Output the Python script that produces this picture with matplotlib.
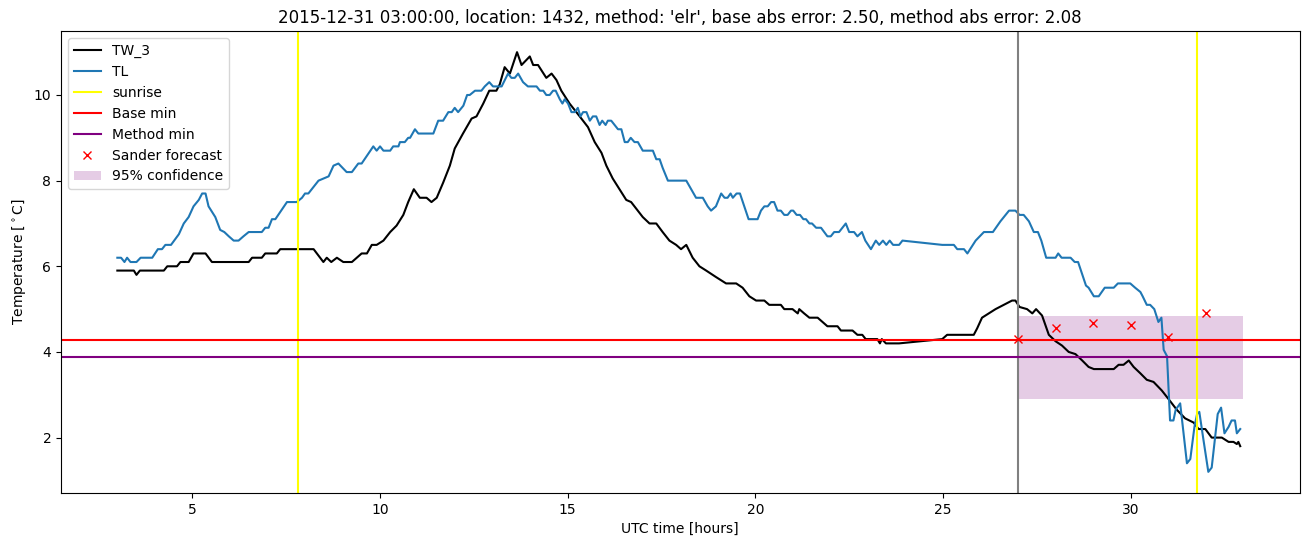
import matplotlib
matplotlib.use('Agg')
import matplotlib.pyplot as plt

# TW_3 (black) readings: hours, temperature
tw3_t = [3.0, 3.44, 3.51, 3.6, 4.24, 4.33, 4.59, 4.68, 4.9, 5.03, 5.35, 5.52, 6.5, 6.59, 6.85,
         6.94, 7.25, 7.34, 8.23, 8.36, 8.49, 8.58, 8.7, 8.85, 9.02, 9.25, 9.38, 9.51, 9.65, 9.78,
         9.91, 10.09, 10.27, 10.44, 10.62, 10.75, 10.9, 11.06, 11.24, 11.37, 11.51, 11.68, 11.86,
         11.99, 12.21, 12.44, 12.57, 12.75, 12.91, 13.1, 13.19, 13.32, 13.46, 13.65, 13.77, 13.99,
         14.08, 14.21, 14.43, 14.57, 14.7, 14.83, 15.05, 15.32, 15.54, 15.72, 15.9, 16.03, 16.2,
         16.38, 16.56, 16.69, 17.0, 17.18, 17.36, 17.53, 17.71, 17.89, 18.02, 18.16, 18.33, 18.51,
         18.69, 18.95, 19.22, 19.49, 19.66, 19.84, 20.02, 20.24, 20.37, 20.68, 20.77, 20.99, 21.13,
         21.17, 21.3, 21.44, 21.66, 21.79, 21.92, 22.19, 22.28, 22.59, 22.72, 22.85, 22.94, 23.25,
         23.32, 23.37, 23.48, 23.83, 24.98, 25.11, 25.82, 25.91, 26.04, 26.22, 26.4, 26.62, 26.84,
         26.93, 27.04, 27.24, 27.38, 27.48, 27.64, 27.82, 28.0, 28.17, 28.35, 28.53, 28.71, 28.88,
         29.02, 29.55, 29.68, 29.81, 29.95, 30.08, 30.26, 30.43, 30.61, 30.83, 31.01, 31.23, 31.45,
         31.68, 31.81, 31.99, 32.16, 32.43, 32.61, 32.74, 32.83, 32.87, 32.92]
tw3_v = [5.9, 5.9, 5.8, 5.9, 5.9, 6.0, 6.0, 6.1, 6.1, 6.3, 6.3, 6.1, 6.1, 6.2, 6.2,
         6.3, 6.3, 6.4, 6.4, 6.25, 6.1, 6.2, 6.1, 6.2, 6.1, 6.1, 6.2, 6.3, 6.3, 6.5,
         6.5, 6.6, 6.8, 6.95, 7.2, 7.5, 7.8, 7.6, 7.6, 7.5, 7.6, 7.95, 8.35,
         8.75, 9.1, 9.45, 9.5, 9.8, 10.1, 10.1, 10.25, 10.65, 10.5, 11.0, 10.7, 10.9,
         10.7, 10.7, 10.4, 10.5, 10.35, 10.1, 9.8, 9.5, 9.25, 8.9, 8.65, 8.35, 8.05,
         7.8, 7.55, 7.5, 7.15, 7.0, 7.0, 6.8, 6.6, 6.5, 6.4, 6.5, 6.2, 6.0,
         5.9, 5.75, 5.6, 5.6, 5.5, 5.3, 5.2, 5.2, 5.1, 5.1, 5.0, 5.0, 4.9,
         5.0, 4.9, 4.8, 4.8, 4.7, 4.6, 4.6, 4.5, 4.5, 4.4, 4.4, 4.3, 4.3,
         4.2, 4.3, 4.2, 4.2, 4.3, 4.4, 4.4, 4.55, 4.8, 4.9, 5.0, 5.1, 5.2,
         5.2, 5.05, 5.0, 4.9, 5.0, 4.85, 4.4, 4.25, 4.15, 4.0, 3.95, 3.8, 3.65,
         3.6, 3.6, 3.7, 3.7, 3.8, 3.65, 3.5, 3.35, 3.3, 3.1, 2.9, 2.65, 2.45,
         2.35, 2.2, 2.2, 2.0, 2.0, 1.9, 1.9, 1.85, 1.9, 1.8]

# TL (blue) readings
tl_t = [3.0, 3.1, 3.19, 3.26, 3.35, 3.51, 3.62, 3.93, 4.08, 4.19, 4.28, 4.43, 4.64, 4.77, 4.9,
        5.03, 5.17, 5.26, 5.35, 5.43, 5.61, 5.74, 5.85, 5.97, 6.1, 6.23, 6.36, 6.5, 6.85, 6.94,
        7.03, 7.12, 7.21, 7.52, 7.78, 7.92, 8.0, 8.09, 8.36, 8.63, 8.76, 8.89, 9.11, 9.25, 9.42,
        9.51, 9.82, 9.91, 10.0, 10.09, 10.27, 10.35, 10.49, 10.53, 10.66, 10.75, 10.8, 10.93,
        11.02, 11.42, 11.55, 11.68, 11.82, 11.91, 11.99, 12.08, 12.22, 12.32, 12.39, 12.53, 12.7,
        12.79, 12.91, 13.01, 13.24, 13.41, 13.5, 13.59, 13.68, 13.81, 13.94, 14.17, 14.26, 14.35,
        14.43, 14.52, 14.61, 14.68, 14.79, 14.86, 14.92, 15.01, 15.1, 15.19, 15.27, 15.34, 15.41,
        15.5, 15.59, 15.67, 15.76, 15.85, 15.92, 16.01, 16.07, 16.16, 16.34, 16.43, 16.52, 16.6,
        16.68, 16.78, 16.87, 17.0, 17.27, 17.36, 17.45, 17.53, 17.67, 18.16, 18.29, 18.42, 18.6,
        18.73, 18.82, 18.95, 19.09, 19.18, 19.26, 19.34, 19.4, 19.5, 19.59, 19.82, 20.06, 20.15,
        20.24, 20.33, 20.42, 20.5, 20.59, 20.68, 20.77, 20.86, 20.95, 21.01, 21.1, 21.19, 21.28,
        21.35, 21.44, 21.51, 21.62, 21.75, 21.92, 22.01, 22.1, 22.23, 22.41, 22.5, 22.63, 22.72,
        22.84, 22.93, 23.08, 23.21, 23.3, 23.4, 23.49, 23.58, 23.67, 23.83, 23.92, 24.98, 25.29,
        25.38, 25.56, 25.65, 25.87, 26.09, 26.33, 26.53, 26.76, 26.93, 27.04, 27.15, 27.29, 27.42,
        27.53, 27.62, 27.75, 28.0, 28.07, 28.16, 28.4, 28.51, 28.6, 28.81, 28.88, 29.02, 29.15,
        29.31, 29.55, 29.66, 29.99, 30.12, 30.26, 30.32, 30.43, 30.52, 30.63, 30.74, 30.82, 30.88,
        30.97, 31.05, 31.14, 31.2, 31.32, 31.5, 31.59, 31.7, 31.77, 31.83, 31.94, 32.07, 32.16,
        32.32, 32.41, 32.5, 32.61, 32.69, 32.78, 32.83, 32.92]
tl_v = [6.2, 6.2, 6.1, 6.2, 6.1, 6.1, 6.2, 6.2, 6.4, 6.4, 6.5, 6.5, 6.75, 7.0, 7.15,
        7.4, 7.55, 7.7, 7.7, 7.4, 7.15, 6.85, 6.8, 6.7, 6.6, 6.6, 6.7, 6.8, 6.8, 6.9,
        6.9, 7.1, 7.1, 7.5, 7.5, 7.6, 7.7, 7.7, 8.0, 8.1, 8.35, 8.4, 8.2, 8.2, 8.4,
        8.4, 8.8, 8.7, 8.8, 8.7, 8.7, 8.8, 8.8, 8.9, 8.9, 9.0, 9.0, 9.2,
        9.1, 9.1, 9.4, 9.4, 9.6, 9.6, 9.7, 9.6, 9.75, 10.0, 10.0, 10.1, 10.1,
        10.2, 10.3, 10.2, 10.2, 10.5, 10.4, 10.4, 10.5, 10.3, 10.2, 10.2, 10.1, 10.1,
        10.0, 10.0, 10.1, 10.1, 9.9, 9.8, 9.9, 9.8, 9.6, 9.6, 9.7, 9.5, 9.6,
        9.6, 9.4, 9.5, 9.5, 9.3, 9.4, 9.3, 9.4, 9.4, 9.2, 9.2, 8.9, 8.9,
        9.0, 8.9, 8.9, 8.7, 8.7, 8.5, 8.5, 8.3, 8.0, 8.0, 7.8, 7.6, 7.6,
        7.4, 7.3, 7.4, 7.7, 7.6, 7.6, 7.7, 7.6, 7.7, 7.7, 7.1, 7.1, 7.3,
        7.4, 7.4, 7.5, 7.5, 7.3, 7.3, 7.2, 7.2, 7.3, 7.3, 7.2, 7.2, 7.1,
        7.1, 7.0, 7.0, 6.9, 6.9, 6.7, 6.7, 6.8, 6.8, 7.0, 6.8, 6.8, 6.7,
        6.8, 6.6, 6.4, 6.6, 6.5, 6.6, 6.5, 6.6, 6.5, 6.5, 6.6, 6.5, 6.5,
        6.4, 6.4, 6.3, 6.6, 6.8, 6.8, 7.05, 7.3, 7.3, 7.2, 7.2, 7.05, 6.8,
        6.8, 6.6, 6.2, 6.2, 6.3, 6.2, 6.2, 6.1, 6.1, 5.55, 5.5, 5.3, 5.3,
        5.5, 5.5, 5.6, 5.6, 5.5, 5.4, 5.3, 5.1, 5.1, 5.0, 4.7, 4.8, 4.05,
        3.9, 2.4, 2.4, 2.65, 2.8, 1.4, 1.5, 2.25, 2.55, 2.6, 1.95, 1.2, 1.3,
        2.55, 2.7, 2.1, 2.25, 2.4, 2.4, 2.1, 2.2]

sunrise = [7.82, 31.78]
forecast_start = 27.0
base_min = 4.29
method_min = 3.89

sander_t = [27, 28, 29, 30, 31, 32]
sander_v = [4.3, 4.57, 4.67, 4.62, 4.36, 4.92]

conf_t = [27.0, 33.0]
conf_lo = 2.9
conf_hi = 4.85

fig = plt.figure(figsize=(13.1, 5.47), dpi=100)
ax = fig.add_subplot(111)
fig.subplots_adjust(left=0.0466, right=0.992, top=0.943, bottom=0.099)

ax.plot(tw3_t, tw3_v, color='black', label='TW_3')
ax.plot(tl_t, tl_v, color='tab:blue', label='TL')
ax.axvline(sunrise[0], color='yellow', label='sunrise')
ax.axvline(sunrise[1], color='yellow')
ax.axvline(forecast_start, color='gray')
ax.axhline(base_min, color='red', label='Base min')
ax.axhline(method_min, color='purple', label='Method min')
ax.plot(sander_t, sander_v, 'rx', label='Sander forecast')
ax.fill_between(conf_t, conf_lo, conf_hi, color='purple', alpha=0.2, linewidth=0,
                label='95% confidence')

ax.set_title("2015-12-31 03:00:00, location: 1432, method: 'elr', base abs error: 2.50, "
             "method abs error: 2.08")
ax.set_xlabel('UTC time [hours]')
ax.set_ylabel(r'Temperature [$^\circ$C]')
ax.legend(loc='upper left')

fig.savefig('out.png', dpi=100)
